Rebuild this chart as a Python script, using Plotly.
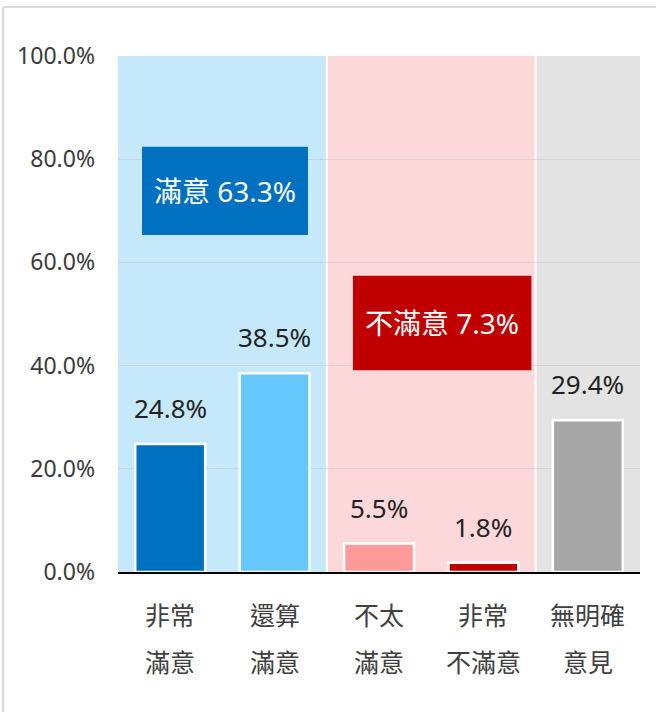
import plotly.graph_objects as go

# categories (two-line labels) and values in percent
cat_line1 = ["非常", "還算", "不太", "非常", "無明確"]
cat_line2 = ["滿意", "滿意", "滿意", "不滿意", "意見"]
values = [24.8, 38.5, 5.5, 1.8, 29.4]
bar_colors = ["#0070C0", "#66C8FA", "#FF9A9A", "#C00000", "#A6A6A6"]

# summary boxes
sum_labels = ["滿意 63.3%", "不滿意 7.3%"]
sum_colors = ["#0070C0", "#C00000"]
sum_x = [(-0.27, 1.32), (1.75, 3.46)]
sum_y = [(65.3, 82.4), (39.1, 57.4)]

# background bands: (start, end, colour)
bands = [(-0.5, 1.5, "#C5E8FB"), (1.5, 3.5, "#FDD8DA"), (3.5, 4.5, "#E3E3E3")]

font_family = "Noto Sans, Noto Sans CJK TC"
x_idx = list(range(len(values)))

fig = go.Figure()
fig.add_trace(go.Bar(
    x=x_idx, y=values, width=0.67,
    marker=dict(color=bar_colors, line=dict(color="white", width=2.5)),
    hoverinfo="skip",
))

shapes = []
for x0, x1, col in bands:
    shapes.append(dict(type="rect", xref="x", yref="y", x0=x0, x1=x1, y0=0, y1=100,
                       fillcolor=col, line=dict(width=0), layer="below"))
for x0, x1, col in bands[1:]:
    shapes.append(dict(type="line", xref="x", yref="y", x0=x0, x1=x0, y0=0, y1=100,
                       line=dict(color="white", width=2), layer="below"))
for (x0, x1), (y0, y1), col in zip(sum_x, sum_y, sum_colors):
    shapes.append(dict(type="rect", xref="x", yref="y", x0=x0, x1=x1, y0=y0, y1=y1,
                       fillcolor=col, line=dict(width=0), layer="above"))
# frame lines at top and left of the picture
shapes.append(dict(type="line", xref="paper", yref="paper", x0=-0.22, x1=1.05, y0=1.095, y1=1.095,
                   line=dict(color="#DADADA", width=2)))
shapes.append(dict(type="line", xref="paper", yref="paper", x0=-0.22, x1=-0.22, y0=1.095, y1=-0.3,
                   line=dict(color="#DADADA", width=2)))

annotations = []
for i, v in enumerate(values):
    annotations.append(dict(x=i, y=v, xref="x", yref="y", text=f"{v:.1f}%", showarrow=False,
                            yanchor="bottom", yshift=16, font=dict(size=26, color="#222222")))
for i, (a, b) in enumerate(zip(cat_line1, cat_line2)):
    annotations.append(dict(x=i, y=-0.083, xref="x", yref="paper", text=a, showarrow=False,
                            yanchor="middle", font=dict(size=25, color="#404040")))
    annotations.append(dict(x=i, y=-0.174, xref="x", yref="paper", text=b, showarrow=False,
                            yanchor="middle", font=dict(size=25, color="#404040")))
for (x0, x1), (y0, y1), lab in zip(sum_x, sum_y, sum_labels):
    annotations.append(dict(x=(x0 + x1) / 2, y=(y0 + y1) / 2, xref="x", yref="y", text=lab,
                            showarrow=False, font=dict(size=28, color="white")))

fig.update_layout(
    width=656, height=712,
    margin=dict(l=118, r=16, t=56, b=140),
    paper_bgcolor="white", plot_bgcolor="white",
    font=dict(family=font_family),
    showlegend=False,
    shapes=shapes, annotations=annotations,
    xaxis=dict(range=[-0.5, 4.5], showticklabels=False, showgrid=False, zeroline=False,
               showline=True, linecolor="black", linewidth=1.5, fixedrange=True),
    yaxis=dict(range=[0, 100], dtick=20, tickformat=".1f", ticksuffix="%",
               showgrid=True, gridcolor="rgba(190,190,190,0.45)", gridwidth=1,
               zeroline=False, ticklabelstandoff=22,
               tickfont=dict(size=23, color="#3A3A3A"), fixedrange=True),
)

fig.write_html("out.html", config={"displayModeBar": False},
               post_script="document.body.style.margin='0';")
